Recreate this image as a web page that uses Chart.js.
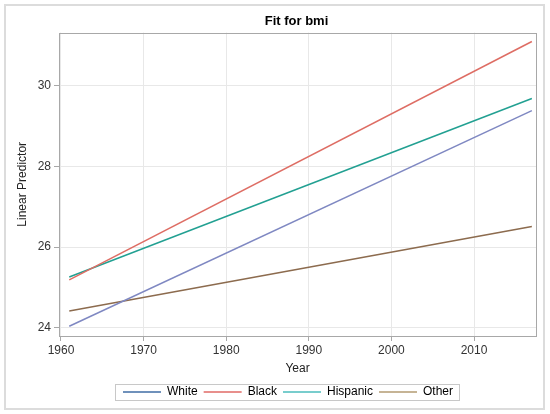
<!DOCTYPE html>
<html>
<head>
<meta charset="utf-8">
<script src="https://cdn.jsdelivr.net/npm/chart.js@4.4.1/dist/chart.umd.min.js"></script>
<style>
  html, body { margin: 0; padding: 0; background: #ffffff; }
  #wrap { width: 550px; height: 414px; position: relative; }
</style>
</head>
<body>
<div id="wrap"><canvas id="chart"></canvas></div>
<script>
// DATOS DEL GRAFICO
const years = [1961, 2017]
const white = [24.04, 29.38]
const black = [25.19, 31.09]
const hispanic = [25.26, 29.68]
const other = [24.42, 26.51]
const seriesNames = ["White", "Black", "Hispanic", "Other"]
const xTicks = [1960, 1970, 1980, 1990, 2000, 2010]
const yTicks = [24, 26, 28, 30]

// colores de linea y de leyenda
const lineColors = ["#7f88c2", "#de6d64", "#22a092", "#8c6b4e"]
const legendColors = ["#3f6ca4", "#e06a66", "#4bbcbc", "#b39b72"]

function toPoints(values) {
    return years.map((y, i) => ({ x: y, y: values[i] }))
}

const allSeries = [white, black, hispanic, other]

// recuadros: panel exterior, area del grafico y leyenda
const framePlugin = {
    id: 'frame',
    afterLayout(chart) {
        // SAS centra titulo y leyenda sobre el area de datos
        const shiftT = (chart.chartArea.left + chart.chartArea.right) / 2 - chart.width / 2
        chart.titleBlock.left += shiftT
        chart.titleBlock.right += shiftT
        chart.legend.left += 14
        chart.legend.right += 14
    },
    beforeDraw(chart) {
        const ctx = chart.ctx
        ctx.save()
        ctx.strokeStyle = "#dcdcdc"
        ctx.lineWidth = 2
        ctx.strokeRect(5, 5, 539, 404)
        ctx.restore()
    },
    afterDraw(chart) {
        const ctx = chart.ctx
        const a = chart.chartArea
        ctx.save()
        ctx.strokeStyle = "#a8a8a8"
        ctx.lineWidth = 1
        ctx.strokeRect(Math.round(a.left) + 0.5, Math.round(a.top) + 0.5,
            Math.round(a.right - a.left), Math.round(a.bottom - a.top))
        const boxes = chart.legend.legendHitBoxes
        if (boxes && boxes.length) {
            let l = Infinity, r = -Infinity, t = Infinity, b = -Infinity
            boxes.forEach(h => {
                l = Math.min(l, h.left); r = Math.max(r, h.left + h.width)
                t = Math.min(t, h.top); b = Math.max(b, h.top + h.height)
            })
            ctx.strokeStyle = "#c8c8c8"
            ctx.strokeRect(Math.round(l - 8) + 0.5, Math.round(t - 2) + 0.5,
                Math.round(r - l + 14), Math.round(b - t + 4))
        }
        ctx.restore()
    }
}

const config = {
    type: 'line',
    data: {
        datasets: allSeries.map((values, i) => ({
            label: seriesNames[i],
            data: toPoints(values),
            borderColor: lineColors[i],
            backgroundColor: lineColors[i],
            borderWidth: 1.5,
            pointRadius: 0,
            fill: false,
            tension: 0
        }))
    },
    options: {
        responsive: true,
        maintainAspectRatio: false,
        animation: false,
        layout: { padding: { left: 12, right: 14, top: 4, bottom: 6 } },
        plugins: {
            title: {
                display: true,
                text: "Fit for bmi",
                color: "#000000",
                font: { family: "'Liberation Sans', Arial, sans-serif", size: 13, weight: 'bold' },
                padding: { top: 10, bottom: 3 }
            },
            legend: {
                position: 'bottom',
                labels: {
                    color: "#222222",
                    font: { family: "'Liberation Sans', Arial, sans-serif", size: 12 },
                    usePointStyle: true,
                    pointStyleWidth: 38,
                    boxHeight: 6,
                    padding: 6,
                    generateLabels: (chart) => seriesNames.map((name, i) => ({
                        text: name,
                        fillStyle: legendColors[i],
                        strokeStyle: legendColors[i],
                        lineWidth: 1.5,
                        pointStyle: 'line',
                        datasetIndex: i,
                        hidden: false
                    }))
                }
            },
            tooltip: { enabled: false }
        },
        scales: {
            x: {
                type: 'linear',
                min: 1959.76,
                max: 2017.5,
                afterBuildTicks: (scale) => { scale.ticks = xTicks.map(v => ({ value: v })) },
                afterFit: (scale) => { scale.height = 44 },
                ticks: {
                    color: "#333333",
                    font: { family: "'Liberation Sans', Arial, sans-serif", size: 12 },
                    padding: 2,
                    maxRotation: 0,
                    callback: (v) => String(v)
                },
                grid: { color: "#e8e8e8", tickColor: "#a8a8a8", tickLength: 5 },
                border: { display: false },
                title: {
                    display: true,
                    text: "Year",
                    color: "#222222",
                    font: { family: "'Liberation Sans', Arial, sans-serif", size: 12 },
                    padding: { top: 0, bottom: 4 }
                }
            },
            y: {
                min: 23.8,
                max: 31.31,
                afterBuildTicks: (scale) => { scale.ticks = yTicks.map(v => ({ value: v })) },
                afterFit: (scale) => { scale.width = 47 },
                ticks: {
                    color: "#333333",
                    font: { family: "'Liberation Sans', Arial, sans-serif", size: 12 },
                    padding: 3,
                    callback: (v) => String(v)
                },
                grid: { color: "#e8e8e8", tickColor: "#a8a8a8", tickLength: 5 },
                border: { display: false },
                title: {
                    display: true,
                    text: "Linear Predictor",
                    color: "#222222",
                    font: { family: "'Liberation Sans', Arial, sans-serif", size: 12 },
                    padding: { top: 3, bottom: 0 }
                }
            }
        }
    },
    plugins: [framePlugin]
}

const chartDOM = document.getElementById("chart")
const chartInstance = new Chart(chartDOM, config)
</script>
</body>
</html>
